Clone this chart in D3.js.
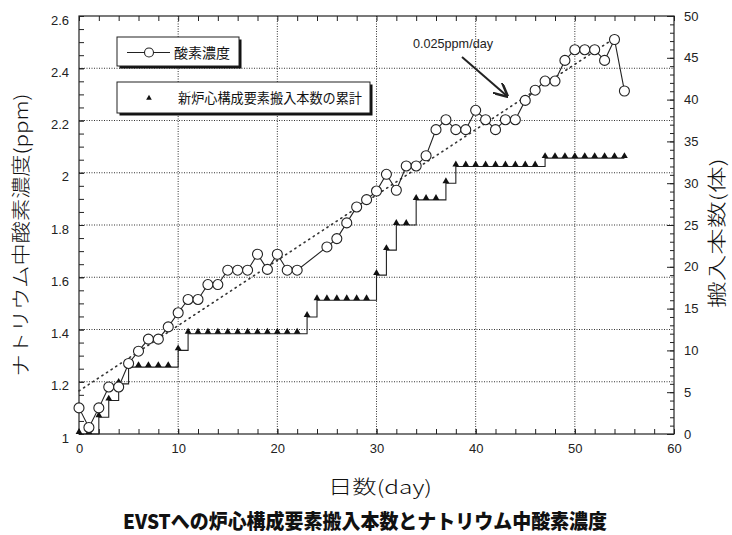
<!DOCTYPE html>
<html><head><meta charset="utf-8">
<script src="https://cdn.jsdelivr.net/npm/d3@7"></script>
<style>
html,body{margin:0;padding:0;background:#fff;}
svg{display:block;}
.tick text{font-family:"Liberation Sans",Arial,sans-serif;font-size:13px;fill:#222;}
.jp{font-family:"Noto Sans CJK JP",sans-serif;fill:#111;}
</style></head>
<body>
<script>
// ---- data ----
const oxyDays = [0,1,2,3,4,5,6,7,8,9,10,11,12,13,14,15,16,17,18,19,20,21,22,25,26,27,28,29,30,31,32,33,34,35,36,37,38,39,40,41,42,43,44,45,46,47,48,49,50,51,52,53,54,55];
const oxyPpm = [1.10,1.025,1.10,1.18,1.18,1.27,1.317,1.363,1.363,1.41,1.464,1.515,1.515,1.572,1.572,1.627,1.627,1.627,1.688,1.63,1.688,1.627,1.627,1.716,1.748,1.808,1.869,1.897,1.93,1.994,1.933,2.026,2.026,2.065,2.165,2.203,2.165,2.165,2.239,2.203,2.165,2.203,2.203,2.277,2.316,2.351,2.351,2.43,2.471,2.471,2.471,2.43,2.51,2.313];
const countDays = d3.range(0,56);
const countVals = [0,0,2,4,6,8,8,8,8,8,10,12,12,12,12,12,12,12,12,12,12,12,12,14,16,16,16,16,16,16,19,22,25,25,28,28,28,30,32,32,32,32,32,32,32,32,32,33,33,33,33,33,33,33,33,33];
const trendDays = [0, 54.5];
const trendPpm = [1.165, 1.165 + 0.025*54.5];
const leftTicks = [1,1.2,1.4,1.6,1.8,2,2.2,2.4,2.6];
const rightTicks = [0,5,10,15,20,25,30,35,40,45,50];
const xTicks = [0,10,20,30,40,50,60];
const legendLabels = ["酸素濃度","新炉心構成要素搬入本数の累計"];
const trendLabel = "0.025ppm/day";
const xTitle = "日数(day)";
const yLeftTitle = "ナトリウム中酸素濃度(ppm)";
const yRightTitle = "搬入本数(体)";
const chartTitle = "EVSTへの炉心構成要素搬入本数とナトリウム中酸素濃度";

// ---- layout ----
const W=732,H=535;
const L=79,R=674,T=16,B=434;
const svg=d3.select("body").append("svg").attr("width",W).attr("height",H);
const x=d3.scaleLinear().domain([0,60]).range([L,R]);
const yL=d3.scaleLinear().domain([1,2.6]).range([B,T]);
const yR=d3.scaleLinear().domain([0,50]).range([B,T]);
const ink="#222";

// gridlines
const g=svg.append("g");
g.selectAll(".gx").data([10,20,30,40,50]).join("line")
 .attr("x1",d=>x(d)).attr("x2",d=>x(d)).attr("y1",T).attr("y2",B)
 .attr("stroke","#333").attr("stroke-width",1).attr("stroke-dasharray","1,1.5");
g.selectAll(".gy").data([1.2,1.4,1.6,1.8,2,2.2,2.4]).join("line")
 .attr("x1",L).attr("x2",R).attr("y1",d=>yL(d)).attr("y2",d=>yL(d))
 .attr("stroke","#333").attr("stroke-width",1).attr("stroke-dasharray","1,1.5");

// axes
const axL=svg.append("g").attr("transform",`translate(${L},0)`)
 .call(d3.axisLeft(yL).tickValues(leftTicks).tickSizeInner(-5).tickSizeOuter(0).tickPadding(10)
   .tickFormat(d=>String(+d.toFixed(1))));
axL.selectAll(".tick text").attr("dy","0.62em");
svg.append("g").attr("transform",`translate(${L},0)`)
 .call(d3.axisLeft(yL).tickValues(d3.range(1,2.6001,0.05)).tickSize(-5).tickFormat(""));
const axR=svg.append("g").attr("transform",`translate(${R},0)`)
 .call(d3.axisRight(yR).tickValues(rightTicks).tickSizeInner(-7).tickSizeOuter(0).tickPadding(10));
svg.append("g").attr("transform",`translate(${R},0)`)
 .call(d3.axisRight(yR).tickValues(d3.range(0,51,1)).tickSize(-4).tickFormat(""));
const axB=svg.append("g").attr("transform",`translate(0,${B})`)
 .call(d3.axisBottom(x).tickValues(xTicks).tickSizeInner(-5).tickSizeOuter(0).tickPadding(10));
svg.append("g").attr("transform",`translate(0,${B})`)
 .call(d3.axisBottom(x).tickValues(d3.range(0,61,2)).tickSize(-5).tickFormat(""));
svg.append("g").attr("transform",`translate(0,${T})`)
 .call(d3.axisTop(x).tickValues(d3.range(0,61,2)).tickSize(-5).tickFormat(""));
svg.selectAll(".domain").attr("stroke","none");
svg.selectAll(".tick line").attr("stroke",ink);
// frame
svg.append("rect").attr("x",L).attr("y",T).attr("width",R-L).attr("height",B-T)
 .attr("fill","none").attr("stroke",ink).attr("stroke-width",1.2);

// trend line
svg.append("line").attr("x1",x(trendDays[0])).attr("y1",yL(trendPpm[0]))
 .attr("x2",x(trendDays[1])).attr("y2",yL(trendPpm[1]))
 .attr("stroke","#333").attr("stroke-width",1.6).attr("stroke-dasharray","1.2,4.3").attr("stroke-linecap","round");

// count step line
const cnt=countDays.map((d,i)=>[d,countVals[i]]);
svg.append("path").datum(cnt)
 .attr("d",d3.line().x(d=>x(d[0])).y(d=>yR(d[1])).curve(d3.curveStepAfter))
 .attr("fill","none").attr("stroke",ink).attr("stroke-width",1.1);
const tri=d3.symbol(d3.symbolTriangle,20);
svg.selectAll(".tri").data(cnt).join("path")
 .attr("d",tri).attr("transform",d=>`translate(${x(d[0])},${yR(d[1])-2})`).attr("fill","#111");

// oxygen line
const oxy=oxyDays.map((d,i)=>[d,oxyPpm[i]]);
svg.append("path").datum(oxy)
 .attr("d",d3.line().x(d=>x(d[0])).y(d=>yL(d[1])))
 .attr("fill","none").attr("stroke",ink).attr("stroke-width",1.1);
svg.selectAll(".cir").data(oxy).join("circle")
 .attr("cx",d=>x(d[0])).attr("cy",d=>yL(d[1])).attr("r",5)
 .attr("fill","#fff").attr("stroke",ink).attr("stroke-width",1.1);

// trend annotation
svg.append("defs").append("marker").attr("id","ah").attr("viewBox","0 0 10 10")
 .attr("refX",9).attr("refY",5).attr("markerWidth",7).attr("markerHeight",7).attr("orient","auto")
 .append("path").attr("d","M0,0L10,5L0,10").attr("fill","none").attr("stroke",ink).attr("stroke-width",1.8);
svg.append("line").attr("x1",462).attr("y1",57).attr("x2",507).attr("y2",96)
 .attr("stroke",ink).attr("stroke-width",2).attr("marker-end","url(#ah)");
svg.append("text").attr("x",413).attr("y",48).text(trendLabel)
 .attr("font-family","Liberation Sans,Arial,sans-serif").attr("font-size",13).attr("fill","#222")
 .attr("textLength",80).attr("lengthAdjust","spacingAndGlyphs");

// legend boxes
function box(x0,y0,w,h){
  svg.append("rect").attr("x",x0+2.5).attr("y",y0+2.5).attr("width",w).attr("height",h).attr("fill","#111");
  svg.append("rect").attr("x",x0).attr("y",y0).attr("width",w).attr("height",h).attr("fill","#fff").attr("stroke",ink).attr("stroke-width",1);
}
box(117,37,122,29);
svg.append("line").attr("x1",127).attr("x2",170).attr("y1",52.5).attr("y2",52.5).attr("stroke",ink).attr("stroke-width",1.1);
svg.append("circle").attr("cx",149).attr("cy",52.5).attr("r",4.5).attr("fill","#fff").attr("stroke",ink).attr("stroke-width",1.1);
svg.append("text").attr("class","jp").attr("x",174).attr("y",58).attr("font-size",14).text(legendLabels[0])
 .attr("textLength",56).attr("lengthAdjust","spacingAndGlyphs");
box(117,82,253,31);
svg.append("path").attr("d",d3.symbol(d3.symbolTriangle,14)).attr("transform","translate(149,98)").attr("fill","#111");
svg.append("text").attr("class","jp").attr("x",178).attr("y",103).attr("font-size",13.5).text(legendLabels[1])
 .attr("textLength",184).attr("lengthAdjust","spacingAndGlyphs");

// axis titles
svg.append("text").attr("class","jp").attr("transform","translate(28,235) rotate(-90)")
 .attr("text-anchor","middle").attr("font-size",19).attr("font-weight",300).text(yLeftTitle)
 .attr("textLength",283).attr("lengthAdjust","spacingAndGlyphs");
svg.append("text").attr("class","jp").attr("transform","translate(724,233) rotate(-90)")
 .attr("text-anchor","middle").attr("font-size",19).attr("font-weight",300).text(yRightTitle)
 .attr("textLength",150).attr("lengthAdjust","spacingAndGlyphs");
svg.append("text").attr("class","jp").attr("x",380).attr("y",494)
 .attr("text-anchor","middle").attr("font-size",19).attr("font-weight",300).text(xTitle)
 .attr("textLength",104).attr("lengthAdjust","spacingAndGlyphs");
svg.append("text").attr("class","jp").attr("x",365).attr("y",529)
 .attr("text-anchor","middle").attr("font-size",20).attr("font-weight",900).text(chartTitle)
 .attr("textLength",484).attr("lengthAdjust","spacingAndGlyphs");
</script>
</body></html>
